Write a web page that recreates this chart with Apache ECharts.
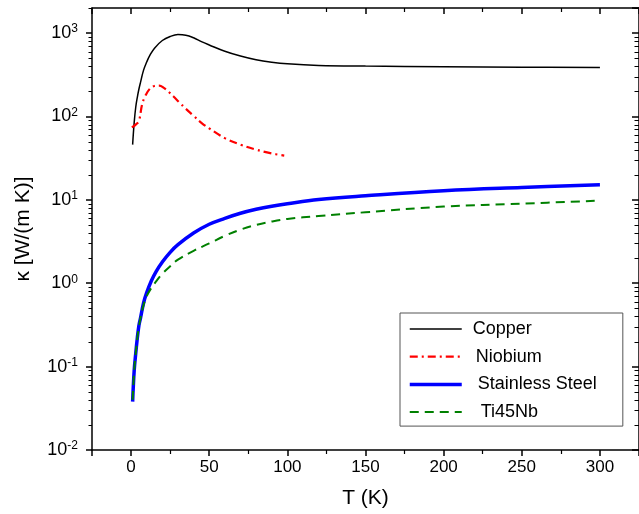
<!DOCTYPE html>
<html>
<head>
<meta charset="utf-8">
<script src="https://cdn.jsdelivr.net/npm/echarts@6/dist/echarts.min.js"></script>
<style>html,body{margin:0;padding:0;background:#fff;}#c{width:639px;height:514px;}</style>
</head>
<body>
<div id="c"></div>
<script>
// Temperatures (K) and thermal conductivities (W/(m K))
var cuT = [1, 2, 3, 4, 5, 6, 8, 10, 12, 15, 20, 25, 30, 35, 40, 45, 50, 60, 70, 80, 90, 100, 120, 150, 200, 250, 300];
var cuK = [46, 85, 130, 170, 212, 255, 360, 450, 540, 660, 815, 910, 960, 945, 880, 790, 720, 605, 530, 478, 447, 428, 410, 402, 395, 390, 387];

var nbT = [0.5, 3, 5, 7, 9, 12, 15, 18, 21, 24, 27, 31, 35, 40, 45, 50, 60, 70, 80, 90, 98];
var nbK = [74, 80, 88, 138, 175, 215, 232, 234, 220, 198, 175, 147, 124, 102, 84, 72, 55, 46, 40, 36, 34];

var ssT = [1, 2, 3, 4, 5, 6, 8, 10, 13, 16, 20, 25, 30, 40, 50, 60, 70, 80, 90, 100, 120, 150, 200, 250, 300];
var ssK = [0.038, 0.09, 0.145, 0.22, 0.31, 0.38, 0.58, 0.77, 1.07, 1.38, 1.8, 2.35, 2.9, 4.0, 5.1, 6.0, 6.9, 7.7, 8.4, 9.0, 10.1, 11.2, 12.9, 14.1, 15.2];

var tiT = [1, 2, 3, 4, 5, 6, 8, 10, 13, 16, 20, 25, 30, 40, 50, 60, 70, 80, 90, 100, 120, 150, 200, 250, 300];
var tiK = [0.04, 0.09, 0.145, 0.22, 0.3, 0.38, 0.55, 0.7, 0.88, 1.05, 1.3, 1.6, 1.92, 2.45, 3.0, 3.7, 4.4, 5.0, 5.5, 5.9, 6.4, 7.1, 8.3, 9.0, 9.8];

var seriesNames = ['Copper', 'Niobium', 'Stainless Steel', 'Ti45Nb'];
var xTitle = 'T (K)';
var yTitle = 'κ [W/(m K)]';

// log-axis minor tick positions (decade x multiplier)
var decades = [0.01, 0.1, 1, 10, 100, 1000];
var minorMult = [2, 3, 4, 5, 6, 7, 8, 9];

var X_MIN = -25, X_MAX = 325, Y_MIN = 0.01, Y_MAX = 2000;

function zip(a, b) { return a.map(function (v, i) { return [v, b[i]]; }); }
var minorVals = [];
decades.forEach(function (d) { minorMult.forEach(function (m) { var v = d * m; if (v <= Y_MAX) minorVals.push(v); }); });

var FONT = 'Liberation Sans, Arial, sans-serif';
var chart = echarts.init(document.getElementById('c'), null, { renderer: 'canvas' });

var axisLineStyle = { color: '#000', width: 1.5 };
var xBase = {
  type: 'value', min: X_MIN, max: X_MAX, splitNumber: 7,
  splitLine: { show: false },
  axisLine: { show: true, onZero: false, lineStyle: axisLineStyle },
  minorTick: { show: true, splitNumber: 2, length: 4, lineStyle: { color: '#000', width: 1.2 } },
  minorSplitLine: { show: false }
};
var yBase = {
  type: 'log', logBase: 10, min: Y_MIN, max: Y_MAX,
  splitLine: { show: false },
  axisLine: { show: true, onZero: false, lineStyle: axisLineStyle },
  minorTick: { show: false },
  minorSplitLine: { show: false }
};

chart.setOption({
  animation: false,
  backgroundColor: '#fff',
  grid: { left: 92, right: -1, top: 8, bottom: 63, containLabel: false },
  xAxis: [
    Object.assign({}, xBase, {
      position: 'bottom',
      name: xTitle, nameLocation: 'middle', nameGap: 38,
      nameTextStyle: { fontFamily: FONT, fontSize: 21, color: '#000' },
      axisTick: { show: true, inside: false, length: 6, lineStyle: { color: '#000', width: 1.5 } },
      axisLabel: { show: true, fontFamily: FONT, fontSize: 17, color: '#000', margin: 9,
        showMinLabel: false, showMaxLabel: false,
        formatter: function (v) { return (v % 50 === 0 && v >= 0 && v <= 300) ? String(v) : ''; } }
    }),
    Object.assign({}, xBase, {
      position: 'top',
      axisTick: { show: true, inside: true, length: 6, lineStyle: { color: '#000', width: 1.5 } },
      axisLabel: { show: false }
    })
  ],
  yAxis: [
    Object.assign({}, yBase, {
      position: 'left',
      name: yTitle, nameLocation: 'middle', nameGap: 58, nameRotate: 90,
      nameTextStyle: { fontFamily: FONT, fontSize: 21, color: '#000', padding: [0, 0, 0, 0] },
      axisTick: { show: true, inside: false, length: 6, lineStyle: { color: '#000', width: 1.5 } },
      axisLabel: {
        show: true, margin: 14, showMaxLabel: false,
        formatter: function (v) {
          var e = Math.round(Math.log10(v));
          if (Math.abs(Math.log10(v) - e) > 1e-6) return '';
          return '{b|10}{s|' + e + '}';
        },
        rich: {
          b: { fontFamily: FONT, fontSize: 18, color: '#000', lineHeight: 20 },
          s: { fontFamily: FONT, fontSize: 12, color: '#000', verticalAlign: 'top', lineHeight: 12, padding: [0, 0, 9, 0] }
        }
      }
    }),
    Object.assign({}, yBase, {
      position: 'right',
      axisTick: { show: true, inside: true, length: 7, lineStyle: { color: '#000', width: 1.5 } },
      axisLabel: { show: false }
    })
  ],
  legend: {
    orient: 'vertical', left: 400, top: 313,
    itemWidth: 52, itemHeight: 14, itemGap: 9.7,
    padding: [7, 26, 5, 8],
    borderColor: '#555', borderWidth: 1, borderRadius: 0,
    backgroundColor: '#fff',
    itemStyle: { opacity: 0 },
    lineStyle: { width: 'inherit' },
    textStyle: { fontFamily: FONT, fontSize: 18, color: '#000' },
    data: [
      { name: seriesNames[0], textStyle: { padding: [0, 0, 0, 6] } },
      { name: seriesNames[1], textStyle: { padding: [0, 0, 0, 9] } },
      { name: seriesNames[2], textStyle: { padding: [0, 0, 0, 11] } },
      { name: seriesNames[3], textStyle: { padding: [0, 0, 0, 14] } }
    ]
  },
  series: [
    { name: seriesNames[0], type: 'line', xAxisIndex: 0, yAxisIndex: 0, data: zip(cuT, cuK),
      symbol: 'none', smooth: 0.4, lineStyle: { color: '#000', width: 1.5 }, itemStyle: { color: '#000' }, z: 3 },
    { name: seriesNames[1], type: 'line', xAxisIndex: 0, yAxisIndex: 0, data: zip(nbT, nbK),
      symbol: 'none', smooth: 0.4, lineStyle: { color: '#ff0000', width: 2.2, type: [8, 4, 2, 4] }, itemStyle: { color: '#ff0000' }, z: 3 },
    { name: seriesNames[2], type: 'line', xAxisIndex: 0, yAxisIndex: 0, data: zip(ssT, ssK),
      symbol: 'none', smooth: 0.4, lineStyle: { color: '#0000ff', width: 3.5 }, itemStyle: { color: '#0000ff' }, z: 2 },
    { name: seriesNames[3], type: 'line', xAxisIndex: 0, yAxisIndex: 0, data: zip(tiT, tiK),
      symbol: 'none', smooth: 0.4, lineStyle: { color: '#008000', width: 2, type: [9, 6] }, itemStyle: { color: '#008000' }, z: 4 },
    { name: 'minorTicks', type: 'custom', xAxisIndex: 0, yAxisIndex: 0, silent: true, clip: false, z: 10,
      data: minorVals.map(function (v) { return [X_MIN, v]; }),
      renderItem: function (params, api) {
        var v = api.value(1);
        var pL = api.coord([X_MIN, v]);
        var pR = api.coord([X_MAX, v]);
        var y = Math.round(pL[1]) + 0.5;
        return { type: 'group', children: [
          { type: 'line', shape: { x1: pL[0] - 3.5, y1: y, x2: pL[0], y2: y }, style: { stroke: '#000', lineWidth: 1 } },
          { type: 'line', shape: { x1: pR[0] - 4.5, y1: y, x2: pR[0], y2: y }, style: { stroke: '#000', lineWidth: 1 } }
        ] };
      }
    }
  ]
});
</script>
</body>
</html>
